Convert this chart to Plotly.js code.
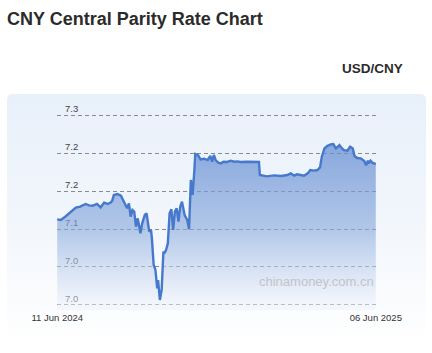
<!DOCTYPE html>
<html>
<head>
<meta charset="utf-8">
<script src="https://cdn.plot.ly/plotly-3.0.1.min.js"></script>
<style>
  html, body { margin: 0; padding: 0; background: #ffffff; }
  #wrap { position: relative; width: 432px; height: 353px; }
  #panel { position: absolute; left: 7px; top: 94px; width: 419px; height: 250px;
           border-radius: 5px; background: linear-gradient(to bottom, #e8f0fa 0%, #f3f7fc 55%, #ffffff 100%); }
  #chart { position: absolute; left: 0; top: 0; width: 432px; height: 353px; }
</style>
</head>
<body>
<div id="wrap">
  <div id="panel"></div>
  <div id="chart"></div>
</div>
<script>
// Data (USD/CNY central parity)
const dates = [
  '2024-06-11','2024-06-15','2024-06-20','2024-06-26','2024-07-02','2024-07-07','2024-07-13','2024-07-17',
  '2024-07-21','2024-07-26','2024-07-30','2024-08-03','2024-08-07','2024-08-10','2024-08-12','2024-08-14',
  '2024-08-18','2024-08-22','2024-08-25','2024-08-29','2024-08-31','2024-09-02','2024-09-04','2024-09-06',
  '2024-09-08','2024-09-10','2024-09-13','2024-09-15','2024-09-18','2024-09-20','2024-09-23','2024-09-25',
  '2024-09-26','2024-09-28','2024-09-30','2024-10-02','2024-10-03','2024-10-05','2024-10-07','2024-10-09',
  '2024-10-10','2024-10-12','2024-10-14','2024-10-16','2024-10-18','2024-10-20','2024-10-22','2024-10-24',
  '2024-10-26','2024-10-28','2024-10-30','2024-11-01','2024-11-02','2024-11-05','2024-11-07','2024-11-09',
  '2024-11-11','2024-11-13','2024-11-14','2024-11-17','2024-11-20','2024-11-24','2024-11-28','2024-12-01',
  '2024-12-03','2024-12-05','2024-12-07','2024-12-10','2024-12-13','2024-12-16','2024-12-20','2024-12-24',
  '2024-12-28','2025-01-01','2025-01-04','2025-01-12','2025-01-19','2025-01-25','2025-01-26','2025-01-31',
  '2025-02-03','2025-02-11','2025-02-19','2025-02-26','2025-03-02','2025-03-06','2025-03-09','2025-03-13',
  '2025-03-17','2025-03-21','2025-03-24','2025-03-28','2025-04-01','2025-04-04','2025-04-06','2025-04-09',
  '2025-04-12','2025-04-16','2025-04-19','2025-04-22','2025-04-26','2025-04-28','2025-05-01','2025-05-05',
  '2025-05-08','2025-05-11','2025-05-13','2025-05-16','2025-05-20','2025-05-24','2025-05-26','2025-05-28',
  '2025-05-29','2025-05-31','2025-06-02','2025-06-04','2025-06-06'
];
const rates = [
  7.1127,7.1118,7.1162,7.1228,7.1281,7.1294,7.1329,7.1311,
  7.1307,7.1329,7.1285,7.1346,7.1329,7.1346,7.1368,7.1447,
  7.1461,7.1439,7.1373,7.1272,7.1338,7.1162,7.1250,7.1228,
  7.1031,7.1140,7.0943,7.1075,7.1184,7.1206,7.0965,7.0987,
  7.0877,7.0526,7.0461,7.0219,7.0329,7.0066,7.0197,7.0702,
  7.0680,7.0724,7.0811,7.1206,7.1259,7.0987,7.1228,7.1272,
  7.1096,7.1294,7.1360,7.1228,7.1184,7.1118,7.0996,7.1645,
  7.1447,7.1776,7.1987,7.1974,7.1917,7.1925,7.1908,7.1961,
  7.1886,7.1974,7.1908,7.1873,7.1864,7.1886,7.1882,7.1899,
  7.1886,7.1890,7.1882,7.1886,7.1882,7.1882,7.1711,7.1697,
  7.1693,7.1706,7.1697,7.1711,7.1732,7.1702,7.1719,7.1711,
  7.1702,7.1732,7.1776,7.1768,7.1776,7.1811,7.1952,7.2061,
  7.2092,7.2114,7.2118,7.2061,7.2105,7.2070,7.2039,7.2031,
  7.2083,7.2061,7.1961,7.1934,7.1930,7.1895,7.1838,7.1899,
  7.1864,7.1899,7.1873,7.1864,7.1855
];
const yTickVals = [7.00, 7.05, 7.10, 7.15, 7.20, 7.25];
const yTickText = ['7.0', '7.0', '7.1', '7.2', '7.2', '7.3'];
const xTickVals = ['2024-06-11', '2025-06-06'];
const xTickText = ['11 Jun 2024', '06 Jun 2025'];

const FONT = 'Liberation Sans, Arial, sans-serif';

const trace = {
  type: 'scatter',
  mode: 'lines',
  x: dates,
  y: rates,
  line: { color: '#4678cc', width: 2.4 },
  fill: 'tozeroy',
  fillgradient: {
    type: 'vertical',
    start: 7.0,
    stop: 7.21,
    colorscale: [
      [0, 'rgba(235,240,250,0.5)'],
      [0.48, 'rgba(136,169,220,0.62)'],
      [1, 'rgba(101,141,211,0.74)']
    ]
  },
  hoverinfo: 'skip'
};

const layout = {
  width: 432,
  height: 353,
  margin: { l: 57, r: 56, t: 105, b: 43 },
  paper_bgcolor: 'rgba(0,0,0,0)',
  plot_bgcolor: 'rgba(0,0,0,0)',
  showlegend: false,
  font: { family: FONT, color: '#333' },
  title: {
    text: 'CNY Central Parity Rate Chart',
    xref: 'container', x: 7 / 432, xanchor: 'left',
    yref: 'container', y: 1 - 19 / 353, yanchor: 'middle',
    font: { family: FONT, size: 18, color: '#2b2b2b', weight: 'bold' }
  },
  xaxis: {
    type: 'date',
    range: ['2024-06-10 18:00', '2025-06-06 06:00'],
    tickvals: xTickVals,
    ticktext: xTickText,
    showgrid: false,
    zeroline: false,
    showline: false,
    ticks: '',
    ticklabeloverflow: 'allow',
    tickfont: { family: FONT, size: 9.5, color: '#333' },
    fixedrange: true
  },
  yaxis: {
    range: [6.9934, 7.2632],
    tickvals: yTickVals,
    ticktext: yTickText,
    showgrid: true,
    gridcolor: '#8a8a8a',
    griddash: '4px,3px',
    gridwidth: 1,
    zeroline: false,
    showline: false,
    ticks: '',
    ticklabelposition: 'inside top',
    ticklabeloverflow: 'allow',
    ticklabelstandoff: 5,
    layer: 'below traces',
    tickfont: { family: FONT, size: 9.5, color: '#444' },
    fixedrange: true
  },
  annotations: [
    {
      text: '<b>USD/CNY</b>',
      xref: 'paper', yref: 'paper',
      x: (405 - 57) / 319, y: (310 - 68) / 205,
      xanchor: 'right', yanchor: 'middle',
      showarrow: false,
      font: { family: FONT, size: 13.5, color: '#2b2b2b' }
    },
    {
      text: 'chinamoney.com.cn',
      xref: 'paper', yref: 'paper',
      x: 1, y: (310 - 281) / 205,
      xanchor: 'right', yanchor: 'middle',
      showarrow: false,
      font: { family: FONT, size: 13, color: '#c2c4c8' }
    }
  ]
};

Plotly.newPlot('chart', [trace], layout, { staticPlot: true, displayModeBar: false });
</script>
</body>
</html>
